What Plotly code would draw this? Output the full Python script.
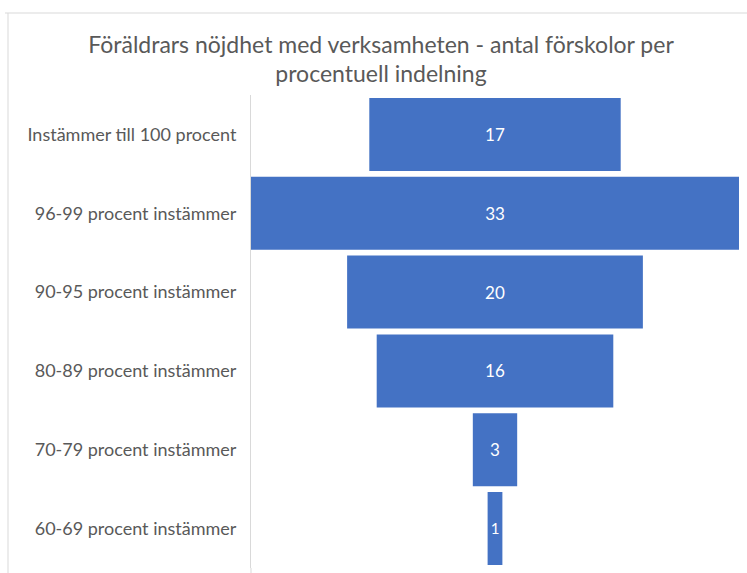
import plotly.graph_objects as go

categories = [
    "Instämmer till 100 procent",
    "96-99 procent instämmer",
    "90-95 procent instämmer",
    "80-89 procent instämmer",
    "70-79 procent instämmer",
    "60-69 procent instämmer",
]
values = [17, 33, 20, 16, 3, 1]
title_text = "Föräldrars nöjdhet med verksamheten - antal förskolor per<br>procentuell indelning"

FONT = "Lato"
GRAY = "#595959"

fig = go.Figure(go.Funnel(
    y=categories,
    x=values,
    textinfo="value",
    textposition="inside",
    insidetextanchor="middle",
    textfont=dict(family=FONT, size=17, color="white"),
    marker=dict(color="#4472C4", line=dict(width=0)),
    connector=dict(visible=False),
))

W, H = 747, 573
L, R, T, B = 251, 8, 95, 5
pw, ph = W - L - R, H - T - B

def px(x):
    return (x - L) / pw

def py(y):
    return (H - B - y) / ph

fig.update_layout(
    width=W, height=H,
    margin=dict(l=L, r=R, t=T, b=B, autoexpand=False),
    paper_bgcolor="white",
    plot_bgcolor="white",
    funnelgap=0.075,
    showlegend=False,
    title=dict(
        text=title_text,
        x=381 / W, xanchor="center",
        y=1 - 52.5 / H, yanchor="middle",
        font=dict(family=FONT, size=23, color=GRAY),
    ),
    xaxis=dict(visible=False, range=[-16.5, 16.5]),
    yaxis=dict(
        showline=True, linecolor="#d9d9d9", linewidth=1,
        showgrid=False, ticks="",
        ticklabelstandoff=10, automargin=False,
        tickfont=dict(family=FONT, size=18, color=GRAY),
    ),
    shapes=[
        dict(type="line", xref="paper", yref="paper",
             x0=px(5), x1=px(747), y0=py(13), y1=py(13),
             line=dict(color="#d9d9d9", width=1)),
        dict(type="line", xref="paper", yref="paper",
             x0=px(8), x1=px(8), y0=py(13), y1=py(573),
             line=dict(color="#d9d9d9", width=1)),
        dict(type="line", xref="paper", yref="paper",
             x0=0, x1=0, y0=0, y1=py(573),
             line=dict(color="#d9d9d9", width=1)),
    ],
)

fig.write_html("out.html", config={"displayModeBar": False},
               post_script="document.body.style.margin='0';")
